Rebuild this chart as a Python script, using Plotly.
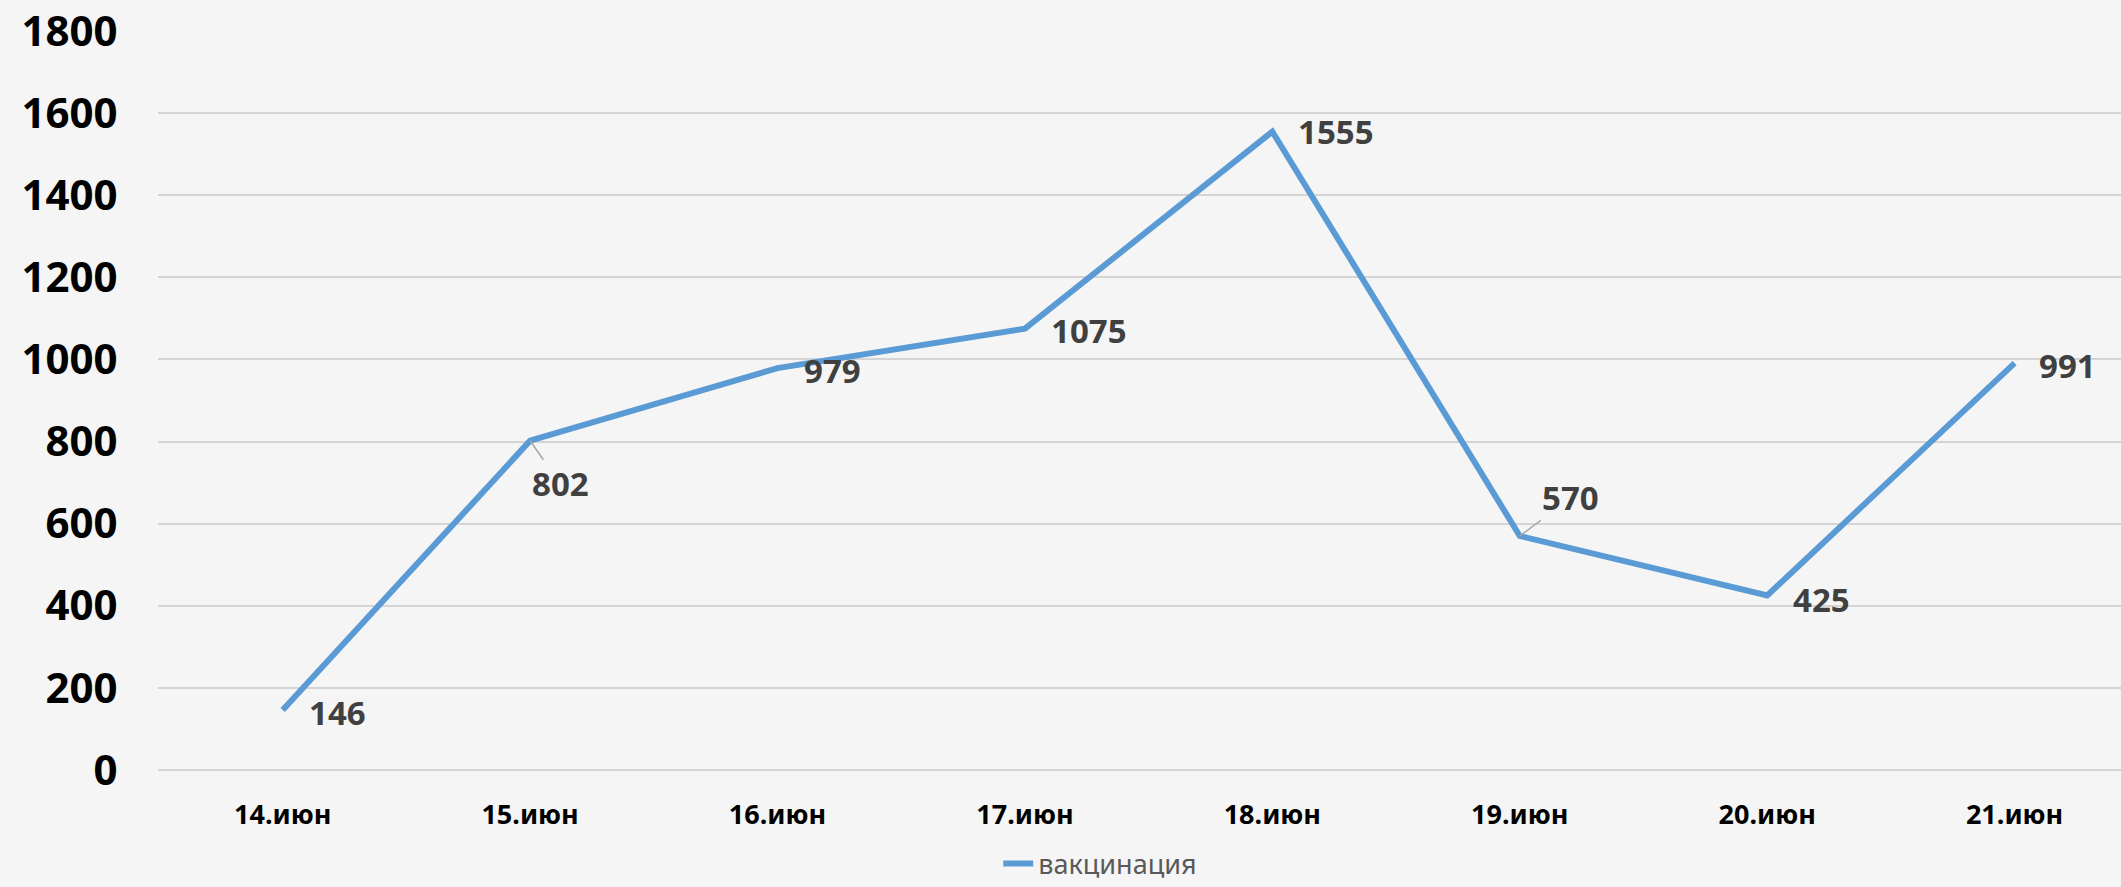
import plotly.graph_objects as go

categories = ["14.июн", "15.июн", "16.июн", "17.июн", "18.июн", "19.июн", "20.июн", "21.июн"]
values = [146, 802, 979, 1075, 1555, 570, 425, 991]
series_name = "вакцинация"
y_ticks = [0, 200, 400, 600, 800, 1000, 1200, 1400, 1600, 1800]

# label placement style (pixel offsets from each point)
label_style = [
    dict(xshift=24, yshift=-2, leader=False),
    dict(ax=30, ay=43, leader=True),
    dict(xshift=24, yshift=-2, leader=False),
    dict(xshift=24, yshift=-2, leader=False),
    dict(xshift=24, yshift=0, leader=False),
    dict(ax=51, ay=-38, leader=True),
    dict(xshift=24, yshift=-4, leader=False),
    dict(xshift=22, yshift=-2, leader=False),
]

FONT = "Noto Sans"
LINE_COLOR = "#5B9BD5"
LABEL_COLOR = "#404040"

fig = go.Figure()
fig.add_trace(go.Scatter(
    x=categories, y=values, mode="lines", name=series_name,
    line=dict(color=LINE_COLOR, width=6),
    showlegend=True,
))

annotations = []
for c, v, st in zip(categories, values, label_style):
    a = dict(x=c, y=v, xref="x", yref="y", text=f"<b>{v}</b>",
             font=dict(family=FONT, size=33, color=LABEL_COLOR))
    if st["leader"]:
        a.update(showarrow=True, ax=st["ax"], ay=st["ay"], arrowhead=0,
                 arrowwidth=1.5, arrowcolor="#a6a6a6", standoff=0,
                 xanchor="center", yanchor="middle")
    else:
        a.update(showarrow=False, xanchor="left", yanchor="middle",
                 xshift=st["xshift"], yshift=st["yshift"])
    annotations.append(a)

fig.update_layout(
    width=2121, height=887,
    margin=dict(l=158, r=0, t=31, b=117, autoexpand=False),
    paper_bgcolor="#f5f5f5", plot_bgcolor="#f5f5f5",
    font=dict(family=FONT),
    annotations=annotations,
    showlegend=True,
    legend=dict(orientation="h", x=0.480, xanchor="center", y=-0.127, yanchor="middle",
                font=dict(family=FONT, size=27, color="#595959"),
                bgcolor="rgba(0,0,0,0)", borderwidth=0),
    xaxis=dict(
        type="category", range=[-0.504, 7.43],
        showgrid=False, zeroline=False, showline=False, automargin=False,
        ticks="outside", ticklen=21, tickcolor="rgba(0,0,0,0)",
        tickfont=dict(family=FONT, size=27, color="#000000"),
        tickvals=categories, ticktext=[f"<b>{c}</b>" for c in categories],
    ),
    yaxis=dict(
        range=[0, 1800], tickvals=y_ticks, automargin=False,
        ticktext=[f"<b>{t}</b>" for t in y_ticks],
        showgrid=True, gridcolor="#d4d4d4", gridwidth=1.5,
        zeroline=True, zerolinecolor="#d4d4d4", zerolinewidth=1.5,
        showline=False,
        ticks="outside", ticklen=31, tickcolor="rgba(0,0,0,0)",
        tickfont=dict(family=FONT, size=42, color="#000000"),
    ),
)

fig.write_html(
    "out.html",
    config={"displayModeBar": False},
    post_script="document.body.style.margin='0';document.body.style.overflow='hidden';",
)
